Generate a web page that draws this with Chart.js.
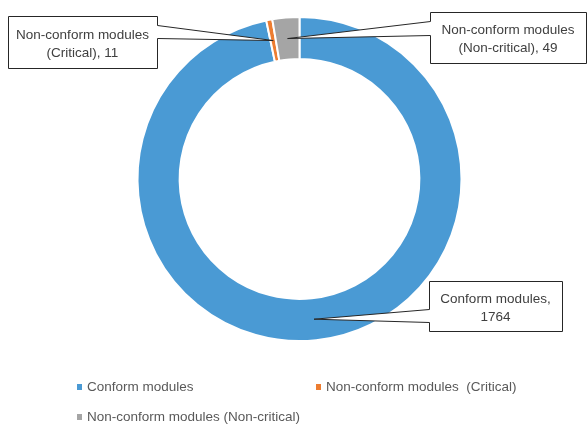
<!DOCTYPE html>
<html>
<head>
<meta charset="utf-8">
<script src="https://cdn.jsdelivr.net/npm/chart.js@4/dist/chart.umd.min.js"></script>
<style>
  html, body { margin: 0; padding: 0; background: #ffffff; }
  #wrap { width: 587px; height: 424px; position: relative; }
</style>
</head>
<body>
<div id="wrap"><canvas id="c" width="587" height="424"></canvas></div>
<script>
// Module inspection results
const categories = ['Conform modules', 'Non-conform modules  (Critical)', 'Non-conform modules (Non-critical)'];
const values = [1764, 11, 49];
const colors = ['#4a9ad4', '#ed7d31', '#a5a5a5'];
// Data-label text; {v} is replaced by the slice value
const calloutText = [
  'Conform modules,\n{v}',
  'Non-conform modules\n(Critical), {v}',
  'Non-conform modules\n(Non-critical), {v}'
];

const FONT = '13.5px "Liberation Sans", Arial, sans-serif';

// Callout boxes with a pointer wedge to each slice
const calloutPlugin = {
  id: 'callouts',
  afterDatasetsDraw(chart, args, opts) {
    const ctx = chart.ctx;
    const arcs = chart.getDatasetMeta(0).data;
    ctx.save();
    ctx.font = FONT;
    ctx.textAlign = 'center';
    ctx.textBaseline = 'middle';
    opts.boxes.forEach((b, i) => {
      const a = arcs[i].getCenterPoint();
      const x = b.x + 0.5, y = b.y + 0.5, w = b.w, h = b.h;
      ctx.beginPath();
      if (b.side === 'left') {
        ctx.moveTo(x, y);
        ctx.lineTo(x + w, y);
        ctx.lineTo(x + w, y + h);
        ctx.lineTo(x, y + h);
        ctx.lineTo(x, y + b.notch[1]);
        ctx.lineTo(a.x, a.y);
        ctx.lineTo(x, y + b.notch[0]);
      } else {
        ctx.moveTo(x, y);
        ctx.lineTo(x + w, y);
        ctx.lineTo(x + w, y + b.notch[0]);
        ctx.lineTo(a.x, a.y);
        ctx.lineTo(x + w, y + b.notch[1]);
        ctx.lineTo(x + w, y + h);
        ctx.lineTo(x, y + h);
      }
      ctx.closePath();
      ctx.fillStyle = '#ffffff';
      ctx.fill();
      ctx.strokeStyle = '#262626';
      ctx.lineWidth = 1;
      ctx.stroke();

      const lines = calloutText[i].replace('{v}', values[i]).split('\n');
      ctx.fillStyle = '#404040';
      const lh = 18;
      const cy = b.y + h / 2 + 2 - (lines.length - 1) * lh / 2;
      lines.forEach((t, k) => ctx.fillText(t, b.x + w / 2, cy + k * lh));
    });
    ctx.restore();
  }
};

// Legend laid out in two columns
const legendPlugin = {
  id: 'gridLegend',
  afterDraw(chart, args, opts) {
    const ctx = chart.ctx;
    const ds = chart.data.datasets[0];
    ctx.save();
    ctx.font = FONT;
    ctx.textAlign = 'left';
    ctx.textBaseline = 'middle';
    chart.data.labels.forEach((lab, i) => {
      const p = opts.slots[i];
      ctx.fillStyle = ds.backgroundColor[i];
      ctx.fillRect(p.x, p.y - 3, 5, 6);
      ctx.fillStyle = '#595959';
      ctx.fillText(lab, p.x + 10, p.y);
    });
    ctx.restore();
  }
};

new Chart(document.getElementById('c'), {
  type: 'doughnut',
  data: {
    labels: categories,
    datasets: [{
      data: values,
      backgroundColor: colors,
      borderColor: '#ffffff',
      borderWidth: 2,
      hoverOffset: 0
    }]
  },
  options: {
    responsive: false,
    animation: false,
    radius: 162,
    cutout: '74%',
    layout: { padding: { top: 18, bottom: 84, left: 12, right: 0 } },
    plugins: {
      legend: { display: false },
      tooltip: { enabled: false },
      callouts: {
        boxes: [
          { x: 429, y: 281, w: 133, h: 50, side: 'left', notch: [28, 41] },
          { x: 8, y: 16, w: 149, h: 52, side: 'right', notch: [9, 22] },
          { x: 430, y: 12, w: 156, h: 51, side: 'left', notch: [9, 23] }
        ]
      },
      gridLegend: {
        slots: [ { x: 77, y: 387 }, { x: 316, y: 387 }, { x: 77, y: 417 } ]
      }
    }
  },
  plugins: [calloutPlugin, legendPlugin]
});
</script>
</body>
</html>
